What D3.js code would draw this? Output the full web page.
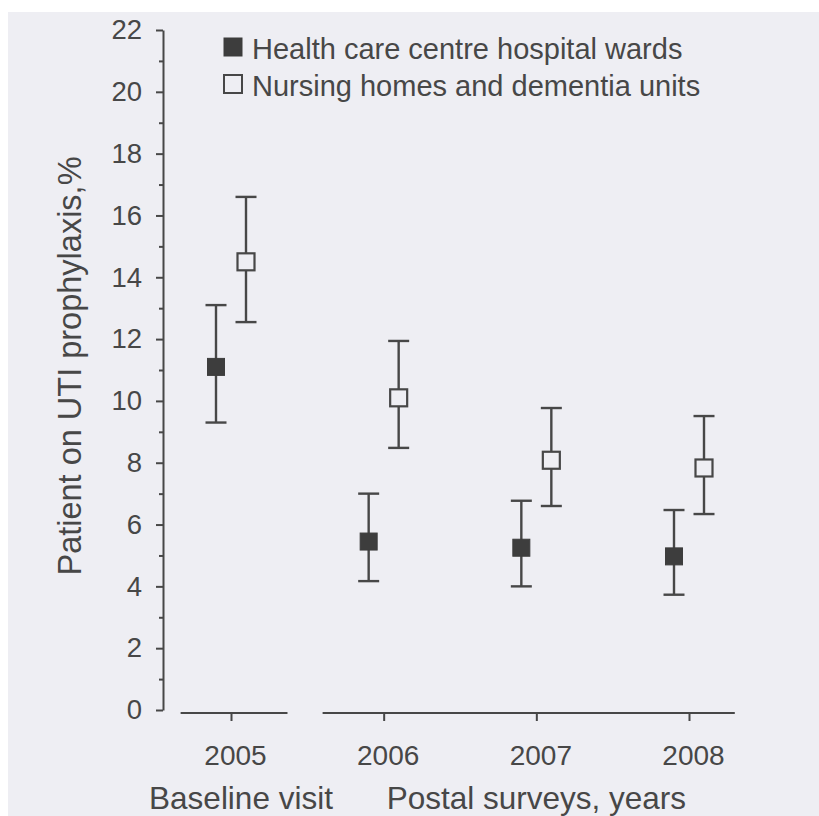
<!DOCTYPE html>
<html>
<head>
<meta charset="utf-8">
<script src="https://cdn.jsdelivr.net/npm/d3@7"></script>
<style>
  html, body { margin: 0; padding: 0; background: #ffffff; }
  svg { display: block; }
  text { font-family: "Liberation Sans", Arial, sans-serif; fill: #474747; }
</style>
</head>
<body>
<svg id="chart" width="819" height="816"></svg>
<script>
// Survey years and the share of patients on UTI prophylaxis (%), with 95% CI
const years = [2005, 2006, 2007, 2008];
const wardMean = [11.1, 5.45, 5.25, 4.97];
const wardLow  = [9.3, 4.17, 4.0, 3.73];
const wardHigh = [13.1, 7.0, 6.77, 6.47];
const homeMean = [14.5, 10.1, 8.08, 7.83];
const homeLow  = [12.55, 8.48, 6.6, 6.34];
const homeHigh = [16.6, 11.94, 9.77, 9.51];
const seriesNames = ["Health care centre hospital wards", "Nursing homes and dementia units"];
const yMajorTicks = [0, 2, 4, 6, 8, 10, 12, 14, 16, 18, 20, 22];
const yMinorTicks = [1, 3, 5, 7, 9, 11, 13, 15, 17, 19, 21];
const periodLabels = ["Baseline visit", "Postal surveys, years"];

const ink = "#474747";
const paper = "#eeeef3";
const svg = d3.select("#chart");

// paper panel
svg.append("rect").attr("x", 8).attr("y", 12).attr("width", 811).attr("height", 804)
  .attr("fill", paper);

const y = d3.scaleLinear().domain([0, 22]).range([710, 30]);
const x = d3.scaleLinear().domain([2005, 2008]).range([231, 689]);
const axisX = 163;
const offset = 15;

// y axis
const yAxis = svg.append("g").attr("transform", `translate(${axisX},0)`)
  .call(d3.axisLeft(y).tickValues(yMajorTicks).tickSize(7).tickSizeOuter(0).tickPadding(14).tickFormat(d3.format("d")));
yAxis.select(".domain").attr("stroke", ink).attr("stroke-width", 2);
yAxis.selectAll(".tick line").attr("stroke", ink).attr("stroke-width", 2);
yAxis.selectAll(".tick text").attr("font-size", 27.5).attr("fill", ink)
  .attr("font-family", "Liberation Sans, Arial, sans-serif");
const yMinor = svg.append("g").attr("transform", `translate(${axisX},0)`)
  .call(d3.axisLeft(y).tickValues(yMinorTicks).tickSize(4).tickFormat(""));
yMinor.select(".domain").remove();
yMinor.selectAll(".tick line").attr("stroke", ink).attr("stroke-width", 2);

// y title
svg.append("text")
  .attr("transform", "translate(81,366) rotate(-90)")
  .attr("text-anchor", "middle")
  .attr("font-size", 32.5)
  .text("Patient on UTI prophylaxis,%");

// x axis: baseline segment and postal-survey segment
const xAxisY = 713;
const segments = [[2004.67, 2005.37], [2005.6, 2008.3]];
svg.append("g").selectAll("line").data(segments).join("line")
  .attr("x1", d => x(d[0])).attr("x2", d => x(d[1]))
  .attr("y1", xAxisY).attr("y2", xAxisY)
  .attr("stroke", ink).attr("stroke-width", 2);
const xAxis = svg.append("g").attr("transform", `translate(0,${xAxisY})`)
  .call(d3.axisBottom(x).tickValues(years).tickSize(8).tickSizeOuter(0).tickPadding(24).tickFormat(d3.format("d")));
xAxis.select(".domain").remove();
xAxis.selectAll(".tick line").attr("stroke", ink).attr("stroke-width", 2);
xAxis.selectAll(".tick text").attr("font-size", 28).attr("fill", ink)
  .attr("dx", 4)
  .attr("font-family", "Liberation Sans, Arial, sans-serif");

svg.append("text").attr("x", x(2005) + 10).attr("y", 809).attr("text-anchor", "middle")
  .attr("font-size", 31.5).text(periodLabels[0]);
svg.append("text").attr("x", (x(2006) + x(2008)) / 2).attr("y", 809).attr("text-anchor", "middle")
  .attr("font-size", 31.5).text(periodLabels[1]);

// error bars and markers
function drawSeries(mean, low, high, dx, filled) {
  const rows = years.map((yr, i) => ({ yr, m: mean[i], lo: low[i], hi: high[i] }));
  const g = svg.append("g");
  const cap = 10.5, half = 8.5;
  g.selectAll("line.v").data(rows).join("line").attr("class", "v")
    .attr("x1", d => x(d.yr) + dx).attr("x2", d => x(d.yr) + dx)
    .attr("y1", d => y(d.lo)).attr("y2", d => y(d.hi))
    .attr("stroke", ink).attr("stroke-width", 2.4);
  ["lo", "hi"].forEach(k => {
    g.selectAll("line.c" + k).data(rows).join("line").attr("class", "c" + k)
      .attr("x1", d => x(d.yr) + dx - cap).attr("x2", d => x(d.yr) + dx + cap)
      .attr("y1", d => y(d[k])).attr("y2", d => y(d[k]))
      .attr("stroke", ink).attr("stroke-width", 2.4);
  });
  g.selectAll("rect").data(rows).join("rect")
    .attr("x", d => x(d.yr) + dx - half).attr("y", d => y(d.m) - half)
    .attr("width", half * 2).attr("height", half * 2)
    .attr("fill", filled ? "#3d3d3d" : paper)
    .attr("stroke", filled ? "#3d3d3d" : ink)
    .attr("stroke-width", filled ? 1 : 2.2);
}
drawSeries(wardMean, wardLow, wardHigh, -offset, true);
drawSeries(homeMean, homeLow, homeHigh, offset, false);

// legend
const legend = svg.append("g");
seriesNames.forEach((name, i) => {
  const ly = 47 + i * 37;
  legend.append("rect").attr("x", 224).attr("y", ly - 9).attr("width", 18).attr("height", 18)
    .attr("fill", i === 0 ? "#3d3d3d" : paper)
    .attr("stroke", i === 0 ? "#3d3d3d" : ink).attr("stroke-width", i === 0 ? 1 : 2);
  legend.append("text").attr("x", 252).attr("y", ly + 12).attr("font-size", 29).text(name);
});
</script>
</body>
</html>
